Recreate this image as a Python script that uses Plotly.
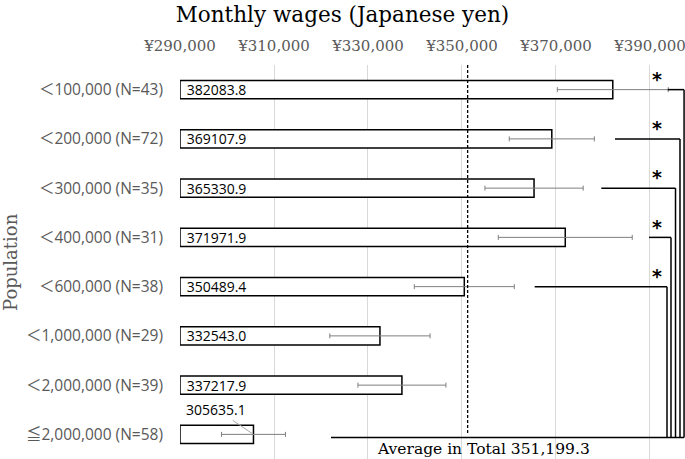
import plotly.graph_objects as go

# ---------------- data ----------------
categories = ["＜100,000 (N=43)", "＜200,000 (N=72)", "＜300,000 (N=35)", "＜400,000 (N=31)",
              "＜600,000 (N=38)", "＜1,000,000 (N=29)", "＜2,000,000 (N=39)", "≦2,000,000 (N=58)"]
wages = [382083.8, 369107.9, 365330.9, 371971.9, 350489.4, 332543.0, 337217.9, 305635.1]
errors = [11800, 9050, 10450, 14250, 10640, 10670, 9360, 6800]
average_total = 351199.3
x_tick_vals = [290000, 310000, 330000, 350000, 370000, 390000]
x_tick_text = ["¥290,000", "¥310,000", "¥330,000", "¥350,000", "¥370,000", "¥390,000"]
axis_min = 290000
axis_max = 397450

# significance brackets (rows 0-4 compared with total): start of horizontal stroke, vertical stroke
bracket_rows = [0, 1, 2, 3, 4]
bracket_start = [393770, 382555, 379640, 389790, 365470]
bracket_vert = [397250, 396383, 395430, 394470, 393620]
bracket_bottom_start = 322130
star_x = 391400

SERIF = "DejaVu Serif"
SANS = "Open Sans, Noto Sans CJK JP"
GRAY = "#595959"

ypos = list(range(len(categories)))

fig = go.Figure()
fig.add_trace(go.Bar(
    y=ypos,
    x=[w - axis_min for w in wages],
    base=axis_min,
    orientation="h",
    width=0.37,
    marker=dict(color="white", line=dict(color="black", width=1.5)),
    text=[f"{w:.1f}" for w in wages],
    texttemplate=" %{text}",
    textposition=["inside"] * 7 + ["none"],
    insidetextanchor="start",
    constraintext="none",
    textfont=dict(family=SANS, size=14, color="black"),
    error_x=dict(type="data", array=errors, color="#7f7f7f", thickness=1, width=2.5),
    hoverinfo="skip",
    cliponaxis=False,
))

shapes = []
# dashed average line
shapes.append(dict(type="line", xref="x", yref="y", x0=average_total, x1=average_total,
                   y0=-0.5, y1=6.97, line=dict(color="black", width=1.3, dash="3px,2px")))
# brackets
for r, xs, xv in zip(bracket_rows, bracket_start, bracket_vert):
    shapes.append(dict(type="line", xref="x", yref="y", x0=xs, x1=xv, y0=r, y1=r,
                       line=dict(color="black", width=1.5)))
    shapes.append(dict(type="line", xref="x", yref="y", x0=xv, x1=xv, y0=r, y1=7.065,
                       line=dict(color="black", width=1.5)))
shapes.append(dict(type="line", xref="x", yref="y", x0=bracket_bottom_start, x1=max(bracket_vert),
                   y0=7.065, y1=7.065, line=dict(color="black", width=1.5)))

annotations = []
for r in bracket_rows:
    annotations.append(dict(x=star_x, y=r - 0.22, xref="x", yref="y", text="<b>*</b>", showarrow=False,
                            font=dict(family="DejaVu Sans", size=19, color="black")))
# label of last bar above with leader line
annotations.append(dict(x=wages[7], y=7, xref="x", yref="y", text=f"{wages[7]:.1f}",
                        showarrow=True, arrowhead=0, arrowwidth=1, arrowcolor="#a6a6a6",
                        ax=-37, ay=-25, font=dict(family=SANS, size=14, color="black")))
annotations.append(dict(x=354470, y=7.3, xref="x", yref="y", text="Average in Total 351,199.3",
                        showarrow=False, font=dict(family=SERIF, size=15.5, color="black")))
annotations.append(dict(x=-170 / 505, y=0.5, xref="paper", yref="paper", text="Population",
                        xanchor="center", yanchor="middle",
                        textangle=-90, showarrow=False, font=dict(family=SERIF, size=18, color=GRAY)))

fig.update_layout(
    width=685, height=459,
    margin=dict(l=180, r=0, t=65, b=0, autoexpand=False),
    paper_bgcolor="white", plot_bgcolor="white",
    showlegend=False,
    title=dict(text="Monthly wages (Japanese yen)", x=0.5, xref="container", xanchor="center",
               y=1 - 14 / 459, yref="container", yanchor="middle",
               font=dict(family=SERIF, size=21.5, color="black")),
    shapes=shapes,
    annotations=annotations,
    xaxis=dict(range=[axis_min, axis_max], side="top", tickvals=x_tick_vals, ticktext=x_tick_text,
               showgrid=True, gridcolor="#d9d9d9", gridwidth=1, zeroline=False, showline=False,
               ticks="", ticklabelstandoff=10, automargin=False, ticklabeloverflow="allow",
               tickfont=dict(family=SERIF, size=15, color=GRAY)),
    yaxis=dict(range=[7.5, -0.5], tickvals=ypos, ticktext=categories, showgrid=False,
               zeroline=False, showline=False, ticks="", ticklabelstandoff=16, automargin=False,
               tickfont=dict(family=SANS, size=15.5, color=GRAY)),
)

fig.write_html("out.html", config={"displayModeBar": False},
               post_script="document.body.style.margin='0';")
